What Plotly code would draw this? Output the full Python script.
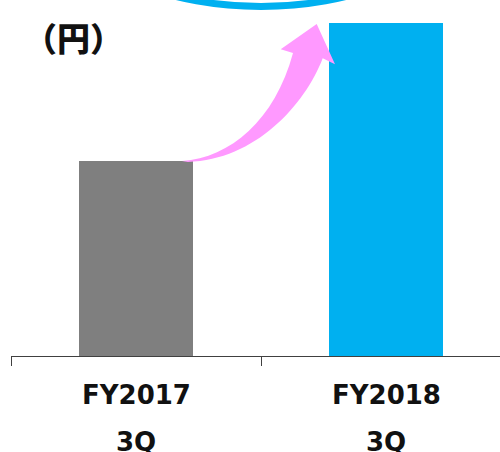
import plotly.graph_objects as go

# ---- data ----
categories = ["FY2017 3Q", "FY2018 3Q"]
label_line1 = ["FY2017", "FY2018"]
label_line2 = ["3Q", "3Q"]
values = [41, 70]
bar_colors = ["#7F7F7F", "#00B0F0"]
unit_label = "（円）"

# ---- layout constants (pixels) ----
W, H = 500, 452
ML, MR, MT, MB = 11, 0, 0, 96
PW, PH = W - ML - MR, H - MT - MB
SLOT = 250.0  # pixels per category
x_range = [-0.5, -0.5 + PW / SLOT]
y_top = values[1] * PH / 333.0
y_range = [0, y_top]


def px2paper(px, py):
    return (px - ML) / PW, (H - MB - py) / PH


fig = go.Figure()
fig.add_trace(go.Bar(
    x=categories,
    y=values,
    marker=dict(color=bar_colors, line=dict(width=0)),
    width=0.456,
    hoverinfo="skip",
))

# curved pink arrow (decoration) drawn from pixel-space control points
pts_upper = [(182, 161), (230, 158), (275, 120), (293, 53)]
head = [(280.7, 49.3), (316.7, 24), (335, 64.3), (322.7, 58.3)]
pts_lower = [(305, 105), (255, 160), (188, 162)]


def P(p):
    a, b = px2paper(*p)
    return f"{a:.5f},{b:.5f}"

path = (f"M {P(pts_upper[0])} C {P(pts_upper[1])} {P(pts_upper[2])} {P(pts_upper[3])} "
        + " ".join(f"L {P(h)}" for h in head)
        + f" C {P(pts_lower[0])} {P(pts_lower[1])} {P(pts_lower[2])} Z")

shapes = [
    dict(type="path", xref="paper", yref="paper", path=path,
         fillcolor="#FF99FF", line=dict(width=0), layer="above"),
]
# blue ellipse partially visible at top
ex0, ey0 = px2paper(86, -153.5)
ex1, ey1 = px2paper(436, 6.5)
shapes.append(dict(type="circle", xref="paper", yref="paper",
                   x0=ex0, x1=ex1, y0=ey1, y1=ey0,
                   line=dict(color="#00B0F0", width=7), fillcolor="rgba(0,0,0,0)",
                   layer="above"))

annotations = []
for i, cat in enumerate(categories):
    annotations.append(dict(x=cat, xref="x", y=px2paper(0, 395)[1], yref="paper",
                            text=f"<b>{label_line1[i]}</b>", showarrow=False,
                            font=dict(family="DejaVu Sans", size=26, color="#111111"),
                            xanchor="center", yanchor="middle"))
    annotations.append(dict(x=cat, xref="x", y=px2paper(0, 442)[1], yref="paper",
                            text=f"<b>{label_line2[i]}</b>", showarrow=False,
                            font=dict(family="DejaVu Sans", size=26, color="#111111"),
                            xanchor="center", yanchor="middle"))

ux, uy = px2paper(73, 37)
annotations.append(dict(x=ux, y=uy, xref="paper", yref="paper", text=unit_label,
                        showarrow=False, xanchor="center", yanchor="middle",
                        font=dict(family="Noto Sans CJK JP", size=33, color="#111111",
                                  weight=900)))

fig.update_layout(
    width=W, height=H,
    margin=dict(l=ML, r=MR, t=MT, b=MB),
    paper_bgcolor="white", plot_bgcolor="white",
    showlegend=False,
    shapes=shapes,
    annotations=annotations,
    xaxis=dict(type="category", range=x_range, tickmode="array", tickvals=categories,
               ticktext=["", ""],
               tickson="boundaries", ticks="outside", ticklen=9, tickcolor="#404040",
               showline=True, linecolor="#404040", linewidth=1, showgrid=False,
               zeroline=False, fixedrange=True),
    yaxis=dict(range=y_range, visible=False, showgrid=False, zeroline=False, fixedrange=True),
)

fig.write_html("out.html", config={"displayModeBar": False},
               post_script="document.body.style.margin='0';document.body.style.overflow='hidden';")
